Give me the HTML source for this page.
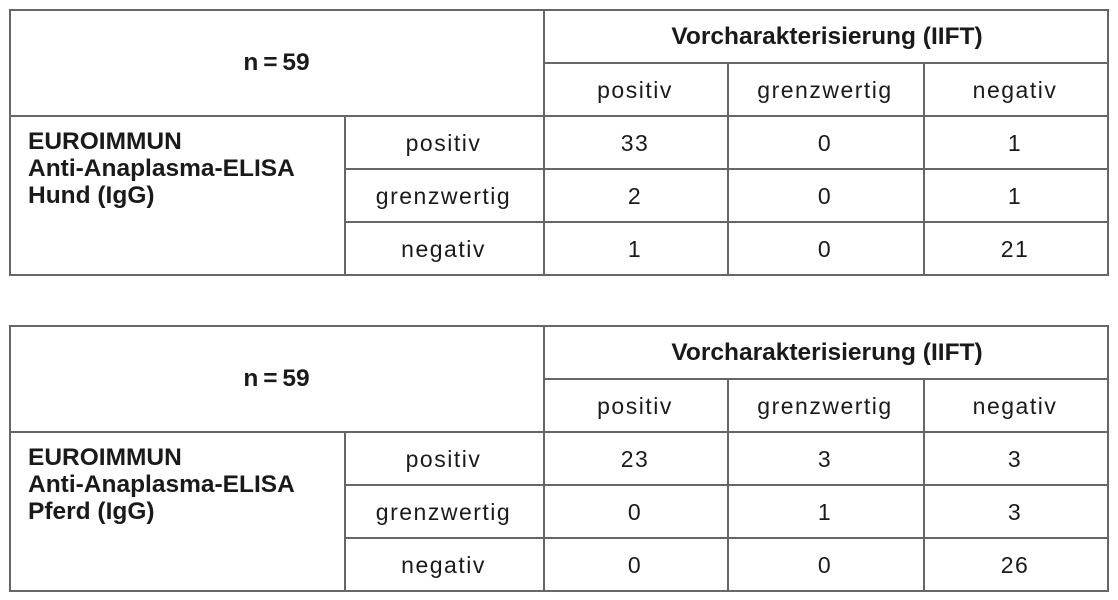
<!DOCTYPE html>
<html><head><style>
body{margin:0;width:1118px;height:600px;background:#fff;position:relative;font-family:"Liberation Sans",sans-serif;color:#1a1a1a;overflow:hidden}
.l{position:absolute;background:#666}
.t{position:absolute;font-size:23px;letter-spacing:1.5px;text-align:center;line-height:26px;white-space:nowrap}
.b{font-weight:bold;letter-spacing:0;font-size:24.5px}
</style></head><body>
<div id="c"></div>
<script>
var c=document.getElementById('c'),h='';
function L(x,y,w,hh){h+='<div class="l" style="left:'+x+'px;top:'+y+'px;width:'+w+'px;height:'+hh+'px"></div>';}
function T(x,w,y,s,b,al){h+='<div class="t'+(b?' b':'')+'" style="left:'+x+'px;width:'+w+'px;top:'+(y-13)+'px;text-align:'+(al||'center')+'">'+s+'</div>';}
function table(r,d,name){
 var X=[9,344,543,727,923,1107];
 L(9,r[0],1100,2);L(9,r[5],1100,2);L(9,r[0],2,r[5]-r[0]+2);L(1107,r[0],2,r[5]-r[0]+2);
 L(543,r[1],566,2);L(9,r[2],1100,2);L(344,r[3],765,2);L(344,r[4],765,2);
 L(543,r[0],2,r[5]-r[0]);L(344,r[2],2,r[5]-r[2]);
 L(727,r[1],2,r[5]-r[1]);L(923,r[1],2,r[5]-r[1]);
 var m=function(i){return (r[i]+r[i+1])/2+1;};
 T(9,535,(r[0]+r[2])/2+1,'n&#8201;=&#8201;59',1);
 T(545,564,m(0),'Vorcharakterisierung (IIFT)',1);
 var hd=['positiv','grenzwertig','negativ'];
 for(var j=0;j<3;j++){T(X[j+2],X[j+3]-X[j+2],m(1),hd[j]);T(344,199,m(j+2),hd[j]);
  for(var k=0;k<3;k++)T(X[k+2],X[k+3]-X[k+2],m(j+2),d[j][k]);}
 h+='<div class="t b" style="left:28px;top:'+(r[2]+13)+'px;text-align:left;line-height:27px">EUROIMMUN<br>Anti-Anaplasma-ELISA<br>'+name+'</div>';
}
table([9,62,115,168,221,274],[[33,0,1],[2,0,1],[1,0,21]],'Hund (IgG)');
table([325,378,431,484,537,590],[[23,3,3],[0,1,3],[0,0,26]],'Pferd (IgG)');
c.innerHTML=h;
</script>
</body></html>
